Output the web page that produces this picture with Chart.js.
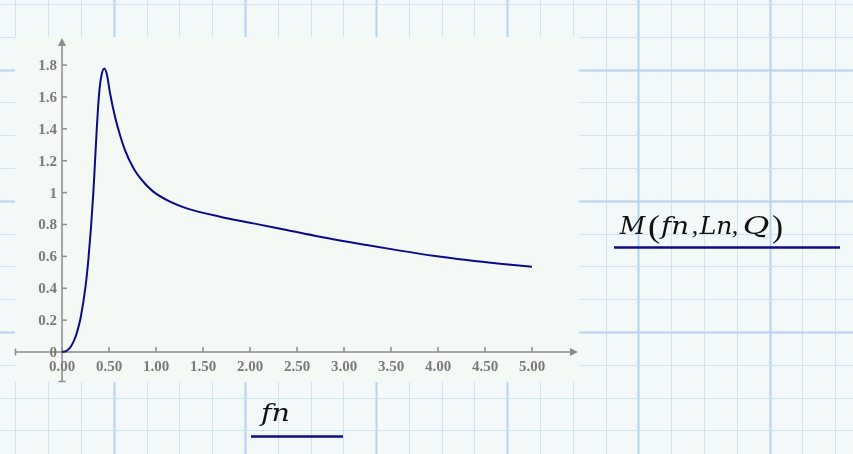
<!DOCTYPE html>
<html><head><meta charset="utf-8">
<script src="https://cdn.jsdelivr.net/npm/chart.js@4/dist/chart.umd.min.js"></script>
<style>html,body{margin:0;padding:0;background:#f4f8f8;overflow:hidden}canvas{display:block}</style>
</head><body>
<canvas id="c" width="853" height="454" style="width:853px;height:454px"></canvas>
<script>
// ---- data ----
const fnValues = [0, 0.05, 0.1, 0.15, 0.174, 0.2, 0.25, 0.28, 0.309, 0.333, 0.351, 0.369, 0.394, 0.42, 0.45, 0.48, 0.511, 0.564, 0.62, 0.67, 0.759, 0.865, 0.971, 1.149, 1.326, 1.681, 2.035, 2.39, 2.745, 3.241, 3.596, 3.95, 4.305, 4.66, 5.0];
const mValues  = [0, 0.008, 0.04, 0.105, 0.155, 0.22, 0.41, 0.577, 0.786, 0.995, 1.19, 1.39, 1.615, 1.735, 1.778, 1.735, 1.623, 1.476, 1.355, 1.267, 1.155, 1.068, 1.006, 0.943, 0.901, 0.849, 0.807, 0.765, 0.723, 0.671, 0.636, 0.604, 0.577, 0.554, 0.535];
const xTickValues = [0, 0.5, 1, 1.5, 2, 2.5, 3, 3.5, 4, 4.5, 5];
const xTickLabels = ['0.00', '0.50', '1.00', '1.50', '2.00', '2.50', '3.00', '3.50', '4.00', '4.50', '5.00'];
const yTickValues = [0, 0.2, 0.4, 0.6, 0.8, 1, 1.2, 1.4, 1.6, 1.8];
const yTickLabels = ['0', '0.2', '0.4', '0.6', '0.8', '1', '1.2', '1.4', '1.6', '1.8'];
const xAxisTitle = 'fn';
// pieces of the series label: text, style, left/right extent
const seriesTitle = [['M','i',622,643],['(','p',648,660],['fn','i',661,689],[',','u',693,697],['Ln','i',702,730],[',','u',733,737],['Q','i',742,770],[')','p',772,783]];

const PAGE_BG = '#f3f8f9';
const PLOT_BG = '#f5f9f6';
const AXIS = '#8a8a8a';
const LABEL = '#7a7a7a';
const NAVY = '#0b0b8a';

const paper = {
  id: 'paper',
  beforeDraw(chart) {
    const ctx = chart.ctx, a = chart.chartArea;
    ctx.save();
    ctx.fillStyle = PAGE_BG;
    ctx.fillRect(0, 0, chart.width, chart.height);
    for (let k = 0; k < 27; k++) {
      const x = 15.3 + 32.8 * k, thick = k % 4 === 3;
      ctx.strokeStyle = thick ? '#b6d4f2' : '#cfe3f6';
      ctx.lineWidth = thick ? 2 : 1;
      ctx.beginPath(); ctx.moveTo(Math.round(x) + 0.5, 0); ctx.lineTo(Math.round(x) + 0.5, chart.height); ctx.stroke();
    }
    for (let k = 0; k < 15; k++) {
      const y = 4 + 32.8 * k, thick = k % 4 === 2;
      ctx.strokeStyle = thick ? '#b6d4f2' : '#cfe3f6';
      ctx.lineWidth = thick ? 2 : 1;
      ctx.beginPath(); ctx.moveTo(0, Math.round(y) + 0.5); ctx.lineTo(chart.width, Math.round(y) + 0.5); ctx.stroke();
    }
    ctx.fillStyle = PLOT_BG;
    ctx.fillRect(a.left, a.top, a.right - a.left, a.bottom - a.top);
    ctx.restore();
  },
  beforeDatasetsDraw(chart) {
    const ctx = chart.ctx, a = chart.chartArea;
    const xs = chart.scales.x, ys = chart.scales.y;
    const x0 = xs.getPixelForValue(0), y0 = ys.getPixelForValue(0);
    ctx.save();
    ctx.strokeStyle = AXIS; ctx.fillStyle = AXIS; ctx.lineWidth = 1.5;
    ctx.beginPath(); ctx.moveTo(a.left, y0); ctx.lineTo(a.right - 6, y0); ctx.stroke();
    ctx.beginPath(); ctx.moveTo(a.right - 1, y0); ctx.lineTo(a.right - 9, y0 - 4); ctx.lineTo(a.right - 9, y0 + 4); ctx.closePath(); ctx.fill();
    ctx.beginPath(); ctx.moveTo(a.left + 0.5, y0 - 3.5); ctx.lineTo(a.left + 0.5, y0 + 3.5); ctx.stroke();
    ctx.beginPath(); ctx.moveTo(x0, a.bottom); ctx.lineTo(x0, a.top + 6); ctx.stroke();
    ctx.beginPath(); ctx.moveTo(x0, a.top + 1); ctx.lineTo(x0 - 4, a.top + 9); ctx.lineTo(x0 + 4, a.top + 9); ctx.closePath(); ctx.fill();
    ctx.beginPath(); ctx.moveTo(x0 - 3.5, a.bottom - 0.5); ctx.lineTo(x0 + 3.5, a.bottom - 0.5); ctx.stroke();
    ctx.font = 'bold 15px "Liberation Serif"';
    ctx.fillStyle = LABEL;
    ctx.textBaseline = 'alphabetic';
    ctx.textAlign = 'center';
    xTickValues.forEach((v, i) => {
      const px = xs.getPixelForValue(v);
      ctx.beginPath(); ctx.moveTo(px, y0); ctx.lineTo(px, y0 - 5); ctx.stroke();
      ctx.fillText(xTickLabels[i], px, y0 + 19);
    });
    ctx.textAlign = 'right';
    yTickValues.forEach((v, i) => {
      const py = ys.getPixelForValue(v);
      ctx.beginPath(); ctx.moveTo(x0, py); ctx.lineTo(x0 + 5, py); ctx.stroke();
      ctx.fillText(yTickLabels[i], x0 - 5, py + 5);
    });
    ctx.restore();
  },
  afterDraw(chart) {
    const ctx = chart.ctx;
    ctx.save();
    ctx.fillStyle = '#111';
    ctx.textBaseline = 'alphabetic';
    ctx.textAlign = 'center';
    const fontFor = s => s === 'i' ? 'italic 25px "DejaVu Serif"' : (s === 'p' ? '31px "Liberation Serif"' : '26px "Liberation Serif"');
    const piece = (txt, style, x1, x2, base) => {
      ctx.font = fontFor(style);
      const w = ctx.measureText(txt).width;
      const sx = Math.max(1, Math.min(1.3, (x2 - x1) / w));
      ctx.save();
      ctx.translate((x1 + x2) / 2, base);
      ctx.scale(sx, 1);
      ctx.fillText(txt, 0, 0);
      ctx.restore();
    };
    seriesTitle.forEach(p => piece(p[0], p[1], p[2], p[3], p[1] === 'p' ? 237 : 234));
    piece(xAxisTitle, 'i', 261, 290, 421);
    ctx.strokeStyle = NAVY; ctx.lineWidth = 2.5;
    ctx.beginPath(); ctx.moveTo(614, 247.5); ctx.lineTo(840, 247.5); ctx.stroke();
    ctx.beginPath(); ctx.moveTo(251, 436.5); ctx.lineTo(343, 436.5); ctx.stroke();
    ctx.restore();
  }
};

new Chart(document.getElementById('c'), {
  type: 'line',
  data: {
    datasets: [{
      data: fnValues.map((f, i) => ({ x: f, y: mValues[i] })),
      borderColor: NAVY,
      borderWidth: 2,
      pointRadius: 0,
      cubicInterpolationMode: 'monotone',
      fill: false
    }]
  },
  options: {
    responsive: false,
    animation: false,
    devicePixelRatio: 1,
    layout: { padding: { left: 15, top: 37, right: 274, bottom: 72 } },
    plugins: { legend: { display: false }, tooltip: { enabled: false } },
    scales: {
      x: { type: 'linear', min: -0.5, max: 5.5, display: false },
      y: { type: 'linear', min: -0.188, max: 1.976, display: false }
    }
  },
  plugins: [paper]
});
</script>
</body></html>
